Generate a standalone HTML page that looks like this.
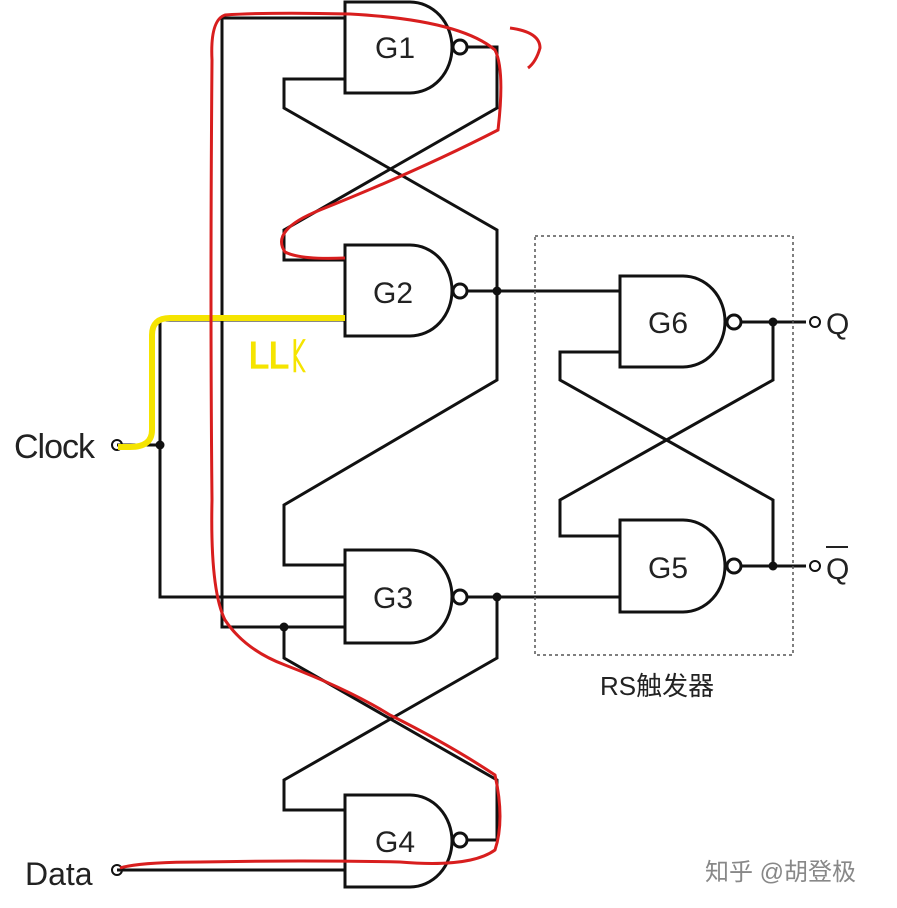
<!DOCTYPE html><html><head><style>body{margin:0;background:#fff}svg{display:block}</style></head><body>
<svg width="897" height="908" xmlns="http://www.w3.org/2000/svg" font-family="Liberation Sans, Noto Sans CJK SC, sans-serif">
<g fill="none" stroke="#111" stroke-width="3">
<path d="M345,2H410A42,45.5 0 0 1 410,93H345Z"/>
<path d="M345,245H410A42,45.5 0 0 1 410,336H345Z"/>
<path d="M345,550H410A42,46.5 0 0 1 410,643H345Z"/>
<path d="M345,795H410A42,46 0 0 1 410,887H345Z"/>
<path d="M620,276H683A42,45.5 0 0 1 683,367H620Z"/>
<path d="M620,520H683A42,46 0 0 1 683,612H620Z"/>
<circle cx="460" cy="47" r="7"/><circle cx="460" cy="291" r="7"/><circle cx="460" cy="597" r="7"/><circle cx="460" cy="840" r="7"/>
<circle cx="734" cy="322" r="7"/><circle cx="734" cy="566" r="7"/>
<path d="M345,18H222V627H345"/>
<path d="M467,47H497V108L284,230V260H345"/>
<path d="M345,79H284V108L497,230V380L284,505V565H345"/>
<path d="M467,291H620"/>
<path d="M345,320H160V597H345"/>
<path d="M117,445H160"/>
<path d="M467,597H620"/>
<path d="M497,597V658L284,780V810H345"/>
<path d="M284,627V658L497,780V840H467"/>
<path d="M117,870H345"/>
<path d="M741,322H806"/><path d="M741,566H806"/>
<path d="M620,352H560V380L773,500V566"/>
<path d="M773,322V380L560,500V536H620"/>
<circle cx="117" cy="445" r="5" stroke-width="2"/><circle cx="117" cy="870" r="5" stroke-width="2"/>
<circle cx="815" cy="322" r="5" stroke-width="2"/><circle cx="815" cy="566" r="5" stroke-width="2"/>
</g>
<g fill="#111"><circle cx="497" cy="291" r="4.5"/><circle cx="497" cy="597" r="4.5"/><circle cx="160" cy="445" r="4.5"/><circle cx="284" cy="627" r="4.5"/><circle cx="773" cy="322" r="4.5"/><circle cx="773" cy="566" r="4.5"/></g>
<rect x="535" y="236" width="258" height="419" fill="none" stroke="#555" stroke-width="1.5" stroke-dasharray="3,3"/>
<g font-size="30" fill="#222" text-anchor="middle">
<text x="395" y="58">G1</text><text x="393" y="303">G2</text><text x="393" y="608">G3</text><text x="395" y="852">G4</text>
<text x="668" y="333">G6</text><text x="668" y="578">G5</text>
</g>
<g fill="#222"><text x="14" y="458" font-size="34" letter-spacing="-1">Clock</text><text x="25" y="885" font-size="32">Data</text><text x="826" y="334" font-size="30">Q</text><text x="826" y="579" font-size="30">Q</text></g>
<line x1="826" y1="547" x2="848" y2="547" stroke="#222" stroke-width="2"/>
<text x="600" y="695" font-size="26" fill="#222">RS触发器</text>
<text x="705" y="880" font-size="24" fill="#888">知乎 @胡登极</text>
<path d="M345,318H170Q152,318 152,335V430Q152,447 130,447H118" fill="none" stroke="#f5e400" stroke-width="6"/>
<text x="248" y="368" font-size="36" fill="#f5e400" font-weight="bold">ᒪᒪᛕ</text>
<path d="M345,258Q300,260 285,252Q270,230 320,210Q420,170 498,130Q505,70 495,50Q460,20 350,14Q270,12 225,15Q210,20 212,60Q210,300 212,500Q210,590 225,620Q245,650 285,665Q350,690 390,715Q450,745 495,775Q505,820 495,850Q470,868 400,862Q300,860 200,862Q140,862 120,868" fill="none" stroke="#d81e1e" stroke-width="3"/>
<path d="M510,28Q540,32 540,48Q536,62 528,68" fill="none" stroke="#d81e1e" stroke-width="3"/>
</svg></body></html>
